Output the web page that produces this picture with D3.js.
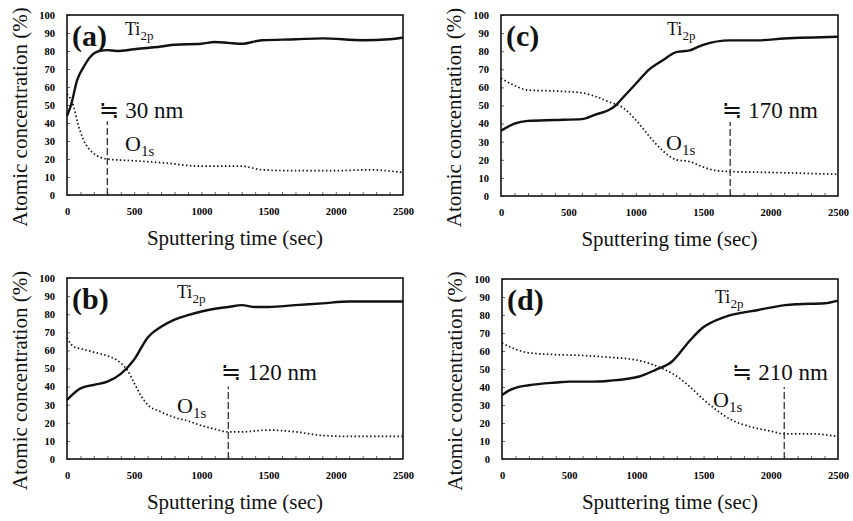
<!DOCTYPE html>
<html>
<head>
<meta charset="utf-8" />
<title>Depth profiles</title>
<script src="https://d3js.org/d3.v7.min.js"></script>
<style>
    body { margin: 0; background: #fff; }
    svg { display: block; }
    .tick text { font-family: 'Liberation Serif', serif; font-weight: bold; font-size: 10.5px; }
    .ttl { font-family: 'Liberation Serif', serif; font-size: 21px; fill: #111; }
    .lbl { font-family: 'Liberation Serif', serif; fill: #111; }
</style>
</head>
<body>
<div id="chart"></div>
<script>
// x ticks and y ticks shared by all panels
var xTicks = [0, 500, 1000, 1500, 2000, 2500];
var yTicks = [0, 10, 20, 30, 40, 50, 60, 70, 80, 90, 100];

// panel (a)
var tiTimeA = [0, 30, 76, 123, 160, 197, 240, 298, 370, 500, 700, 800, 1000, 1100, 1200, 1300, 1450, 1700, 1900, 2200, 2400, 2500];
var tiValA  = [44, 50, 64, 71, 75.5, 78.5, 80, 80.5, 80, 81, 82.5, 83.5, 84, 85, 84.5, 84, 86, 86.5, 87, 86, 86.5, 87.5];
var oTimeA  = [0, 30, 50, 80, 120, 160, 200, 300, 500, 700, 1000, 1300, 1450, 1700, 2000, 2250, 2500];
var oValA   = [56, 53, 49, 40, 31, 26, 23, 20, 19, 18, 16, 16, 14, 13.5, 13.5, 14, 12.5];

// panel (b)
var tiTimeB = [0, 100, 200, 300, 400, 500, 600, 700, 800, 900, 1000, 1100, 1200, 1300, 1400, 1500, 1700, 1900, 2100, 2500];
var tiValB  = [32.6, 39, 41, 42.7, 47, 55, 67, 73, 77, 79.5, 81.5, 83, 84, 85, 84, 84, 85, 86, 87, 87];
var oTimeB  = [0, 50, 100, 200, 300, 400, 450, 500, 550, 600, 700, 800, 900, 1000, 1100, 1200, 1300, 1500, 1700, 1900, 2100, 2500];
var oValB   = [67, 62, 61, 59, 57, 53, 49, 42, 35, 30, 26, 23, 21, 18.5, 16.5, 15, 15, 16, 15, 13, 12.5, 12.5];

// panel (c)
var tiTimeC = [0, 100, 200, 400, 600, 700, 800, 850, 900, 1000, 1100, 1200, 1300, 1400, 1450, 1500, 1700, 1900, 2100, 2500];
var tiValC  = [36, 40, 41.5, 42, 42.5, 45, 47.5, 50, 54, 62, 70, 75, 79.5, 80.5, 82, 83.5, 86, 86, 87, 88];
var oTimeC  = [0, 100, 200, 400, 600, 700, 800, 900, 1000, 1100, 1200, 1300, 1400, 1500, 1600, 1700, 2000, 2500];
var oValC   = [65, 61, 58.5, 58, 57, 55, 52, 49, 42, 33, 25, 20, 19, 16, 14, 13.5, 13, 12];

// panel (d)
var tiTimeD = [0, 50, 100, 200, 400, 500, 667, 800, 1015, 1139, 1263, 1400, 1486, 1660, 1908, 2107, 2200, 2400, 2500];
var tiValD  = [35.5, 38, 39.5, 41, 42.5, 43, 43, 43.5, 45.7, 49.4, 54, 66, 72.5, 79, 82.8, 85.5, 86, 86.5, 88];
var oTimeD  = [0, 100, 200, 400, 600, 800, 1000, 1100, 1200, 1300, 1400, 1500, 1600, 1700, 1800, 1900, 2000, 2100, 2300, 2500];
var oValD   = [64.5, 61, 59, 58, 57.5, 56.5, 55, 53, 50, 46, 40, 33, 27, 22, 19, 17, 15.5, 14, 14, 12.5];

// thickness markers
var markTime = [300, 1200, 1700, 2100];
var markTop = [41, 40, 41, 40];
var markText = ["30 nm", "120 nm", "170 nm", "210 nm"];
var panelNames = ["(a)", "(b)", "(c)", "(d)"];

var width = 853, height = 521;
var svg = d3.select("#chart").append("svg").attr("width", width).attr("height", height);

var panels = [
    { box: [67, 15, 403, 195], ti: [tiTimeA, tiValA], o: [oTimeA, oValA], ticpos: [125, 35], opos: [125, 151], markLbl: [99, 118] },
    { box: [67, 278, 403, 459], ti: [tiTimeB, tiValB], o: [oTimeB, oValB], ticpos: [177, 298], opos: [177, 413], markLbl: [221, 380] },
    { box: [501, 15, 838, 196], ti: [tiTimeC, tiValC], o: [oTimeC, oValC], ticpos: [667, 35], opos: [666, 150], markLbl: [722, 118] },
    { box: [502, 279, 838, 459], ti: [tiTimeD, tiValD], o: [oTimeD, oValD], ticpos: [715, 303], opos: [713, 407], markLbl: [732, 380] }
];

panels.forEach(function (p, i) {
    var x0 = p.box[0], y0 = p.box[1], x1 = p.box[2], y1 = p.box[3];
    var x = d3.scaleLinear().domain([0, 2500]).range([x0, x1]);
    var y = d3.scaleLinear().domain([0, 100]).range([y1, y0]);
    var g = svg.append("g");

    // minor x ticks, inward
    g.append("g").attr("transform", "translate(0," + y1 + ")")
        .call(d3.axisTop(x).tickValues(d3.range(100, 2500, 100)).tickSize(3).tickFormat(""))
        .call(function (s) { s.select(".domain").remove(); s.selectAll("line").attr("stroke", "#666"); });
    // x tick labels
    g.append("g").attr("transform", "translate(0," + y1 + ")")
        .call(d3.axisBottom(x).tickValues(xTicks).tickSize(0).tickPadding(13).tickFormat(d3.format("d")))
        .call(function (s) { s.select(".domain").remove(); });
    // y ticks inward + labels
    g.append("g").attr("transform", "translate(" + x0 + ",0)")
        .call(d3.axisRight(y).tickValues(yTicks).tickSize(3).tickFormat(""))
        .call(function (s) { s.select(".domain").remove(); s.selectAll("line").attr("stroke", "#666"); });
    g.append("g").attr("transform", "translate(" + x0 + ",0)")
        .call(d3.axisLeft(y).tickValues(yTicks).tickSize(0).tickPadding(12).tickFormat(d3.format("d")))
        .call(function (s) { s.select(".domain").remove(); });

    // frame
    g.append("rect").attr("x", x0).attr("y", y0).attr("width", x1 - x0).attr("height", y1 - y0)
        .attr("fill", "none").attr("stroke", "#111").attr("stroke-width", 1.6);

    var line = d3.line().curve(d3.curveMonotoneX)
        .x(function (d) { return x(d[0]); }).y(function (d) { return y(d[1]); });

    var tiPts = d3.zip(p.ti[0], p.ti[1]);
    var oPts = d3.zip(p.o[0], p.o[1]);

    g.append("path").datum(oPts).attr("d", line).attr("fill", "none")
        .attr("stroke", "#111").attr("stroke-width", 1.7).attr("stroke-dasharray", "1.5,2.4");
    g.append("path").datum(tiPts).attr("d", line).attr("fill", "none")
        .attr("stroke", "#111").attr("stroke-width", 2.4);

    // dashed marker
    g.append("line").attr("x1", x(markTime[i])).attr("x2", x(markTime[i]))
        .attr("y1", y(0)).attr("y2", y(markTop[i]))
        .attr("stroke", "#333").attr("stroke-width", 1.3).attr("stroke-dasharray", "7,3");

    // labels
    g.append("text").attr("class", "lbl").attr("x", x0 + 5).attr("y", y0 + 31)
        .style("font-size", "30px").style("font-weight", "bold").text(panelNames[i]);

    var ti = g.append("text").attr("class", "lbl").attr("x", p.ticpos[0]).attr("y", p.ticpos[1]).style("font-size", "18px");
    ti.append("tspan").text("Ti");
    ti.append("tspan").attr("dy", 5).style("font-size", "13px").text("2p");

    var o = g.append("text").attr("class", "lbl").attr("x", p.opos[0]).attr("y", p.opos[1]).style("font-size", "22px");
    o.append("tspan").text("O");
    o.append("tspan").attr("dy", 5).style("font-size", "15px").text("1s");

    var m = g.append("text").attr("class", "lbl").attr("x", p.markLbl[0]).attr("y", p.markLbl[1])
        .style("font-size", "23px");
    m.append("tspan").style("font-family", "'DejaVu Sans', sans-serif").style("font-size", "24px").text("\u2252");
    m.append("tspan").attr("dx", 6).text(markText[i]);

    // axis titles
    g.append("text").attr("class", "ttl").attr("text-anchor", "middle")
        .attr("x", (x0 + x1) / 2).attr("y", y1 + 50).text("Sputtering time (sec)");
    g.append("text").attr("class", "ttl").attr("text-anchor", "middle")
        .attr("transform", "translate(" + (x0 - 40) + "," + ((y0 + y1) / 2 + 12) + ") rotate(-90)")
        .text("Atomic concentration (%)");
});
</script>
</body>
</html>
